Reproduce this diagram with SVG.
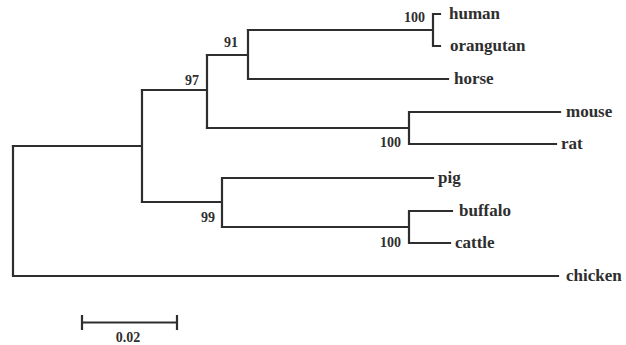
<svg xmlns="http://www.w3.org/2000/svg" width="626" height="345" viewBox="0 0 626 345">
<style>
.br{fill:none;stroke:#2e2e2e;stroke-width:2.2;stroke-linecap:square}
.tip{font-family:"Liberation Serif","Times New Roman",serif;font-weight:bold;font-size:17px;fill:#2e2e2e}
.bs{font-family:"Liberation Serif","Times New Roman",serif;font-weight:bold;font-size:14px;fill:#2e2e2e}
</style>
<rect width="626" height="345" fill="#fff"/>
<g id="connectors">
<path class="br" d="M13,146 V276 H558"/>
<path class="br" d="M13,146 H142 M142,90 V202"/>
<path class="br" d="M142,90 H207 M207,55 V128"/>
<path class="br" d="M207,55 H248 M248,30 V79 H448"/>
<path class="br" d="M248,30 H433 M433,14 V46 M433,14 H440 M433,46 H440"/>
<path class="br" d="M207,128 H409 M409,112 V144 M409,112 H560 M409,144 H556"/>
<path class="br" d="M142,202 H222 M222,178 V227 M222,178 H433"/>
<path class="br" d="M222,227 H409 M409,211 V243 M409,211 H452 M409,243 H450"/>
</g>
<g id="human"><text class="tip" x="449" y="19">human</text></g>
<g id="orangutan"><text class="tip" x="450" y="51">orangutan</text></g>
<g id="horse"><text class="tip" x="454" y="84">horse</text></g>
<g id="mouse"><text class="tip" x="566" y="117">mouse</text></g>
<g id="rat"><text class="tip" x="561" y="149">rat</text></g>
<g id="pig"><text class="tip" x="438" y="183">pig</text></g>
<g id="buffalo"><text class="tip" x="459" y="216">buffalo</text></g>
<g id="cattle"><text class="tip" x="455" y="248">cattle</text></g>
<g id="chicken"><text class="tip" x="566" y="281">chicken</text></g>
<g id="bootstrap">
<text class="bs" x="425" y="22" text-anchor="end">100</text>
<text class="bs" x="238" y="47" text-anchor="end">91</text>
<text class="bs" x="199" y="85" text-anchor="end">97</text>
<text class="bs" x="401" y="147" text-anchor="end">100</text>
<text class="bs" x="215" y="222" text-anchor="end">99</text>
<text class="bs" x="401" y="247" text-anchor="end">100</text>
</g>
<g id="scale">
<path class="br" d="M82,322.5 H177 M82,316 V329 M177,316 V329"/>
<text class="bs" x="128" y="342" text-anchor="middle">0.02</text>
</g>
</svg>
